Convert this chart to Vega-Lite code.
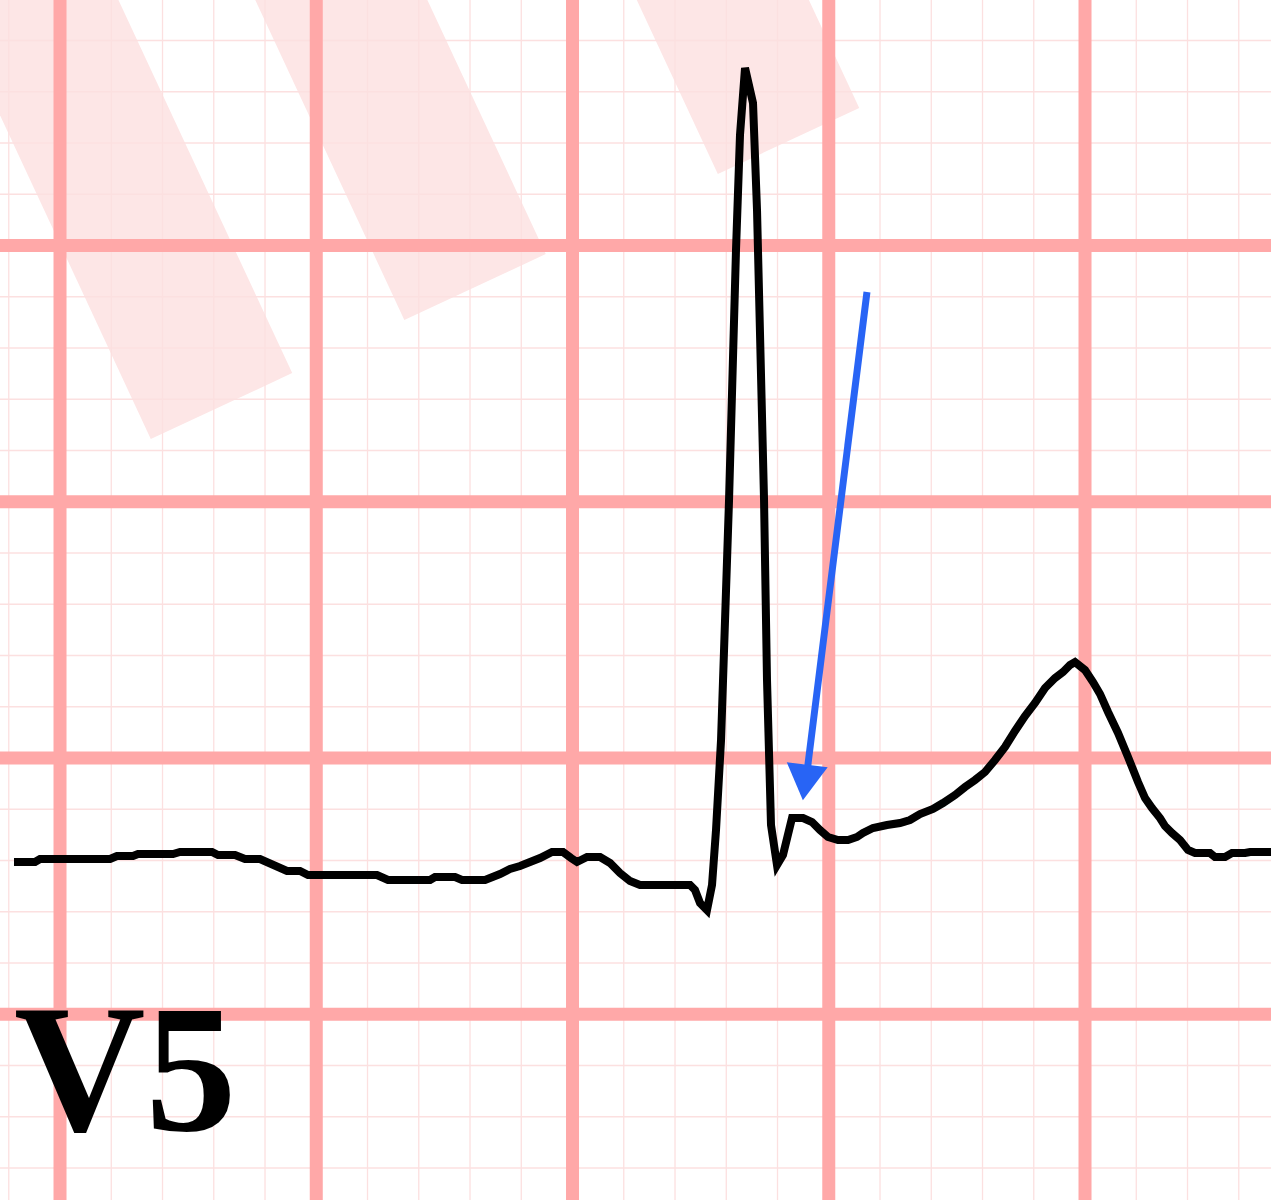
{
  "$schema": "https://vega.github.io/schema/vega-lite/v6.json",
  "width": 1271,
  "height": 1200,
  "autosize": {"type": "none"},
  "padding": 0,
  "background": "white",
  "config": {"view": {"stroke": null}},
  "datasets": {
    "bands": [
      {"x": -1.902, "y": 17.717, "x2": 3.151, "y2": 6.868},
      {"x": 4.125, "y": 17.717, "x2": 8.098, "y2": 9.190},
      {"x": 11.569, "y": 17.717, "x2": 14.215, "y2": 12.039}
    ],
    "minorX": [{"x":-1},{"x":0},{"x":1},{"x":2},{"x":3},{"x":4},{"x":5},{"x":6},{"x":7},{"x":8},{"x":9},{"x":10},{"x":11},{"x":12},{"x":13},{"x":14},{"x":15},{"x":16},{"x":17},{"x":18},{"x":19},{"x":20},{"x":21},{"x":22},{"x":23}],
    "minorY": [{"y":-8},{"y":-7},{"y":-6},{"y":-5},{"y":-4},{"y":-3},{"y":-2},{"y":-1},{"y":0},{"y":1},{"y":2},{"y":3},{"y":4},{"y":5},{"y":6},{"y":7},{"y":8},{"y":9},{"y":10},{"y":11},{"y":12},{"y":13},{"y":14}],
    "majorX": [{"x":0},{"x":5},{"x":10},{"x":15},{"x":20}],
    "majorY": [{"y":-5},{"y":0},{"y":5},{"y":10}],
    "label": [{"text": "V5", "x": -0.898, "y": -7.317}],
    "ecg": [
      {"i":1,"t":-0.898,"v":-2.029},{"i":2,"t":-0.488,"v":-2.029},{"i":3,"t":-0.390,"v":-1.971},{"i":4,"t":0.976,"v":-1.971},
      {"i":5,"t":1.112,"v":-1.912},{"i":6,"t":1.424,"v":-1.912},{"i":7,"t":1.522,"v":-1.873},{"i":8,"t":2.205,"v":-1.873},
      {"i":9,"t":2.341,"v":-1.834},{"i":10,"t":2.966,"v":-1.834},{"i":11,"t":3.083,"v":-1.893},{"i":12,"t":3.415,"v":-1.893},
      {"i":13,"t":3.610,"v":-1.971},{"i":14,"t":3.902,"v":-1.971},{"i":15,"t":4.429,"v":-2.205},{"i":16,"t":4.683,"v":-2.205},
      {"i":17,"t":4.839,"v":-2.283},{"i":18,"t":6.185,"v":-2.283},{"i":19,"t":6.400,"v":-2.380},{"i":20,"t":7.220,"v":-2.380},
      {"i":21,"t":7.317,"v":-2.322},{"i":22,"t":7.707,"v":-2.322},{"i":23,"t":7.844,"v":-2.380},{"i":24,"t":8.293,"v":-2.380},
      {"i":25,"t":8.585,"v":-2.263},{"i":26,"t":8.780,"v":-2.166},{"i":27,"t":8.976,"v":-2.107},{"i":28,"t":9.171,"v":-2.029},
      {"i":29,"t":9.366,"v":-1.951},{"i":30,"t":9.600,"v":-1.834},{"i":31,"t":9.815,"v":-1.834},{"i":32,"t":9.971,"v":-1.951},
      {"i":33,"t":10.088,"v":-2.029},{"i":34,"t":10.283,"v":-1.932},{"i":35,"t":10.537,"v":-1.932},{"i":36,"t":10.732,"v":-2.049},
      {"i":37,"t":10.927,"v":-2.244},{"i":38,"t":11.122,"v":-2.400},{"i":39,"t":11.317,"v":-2.478},{"i":40,"t":12.293,"v":-2.478},
      {"i":41,"t":12.390,"v":-2.576},{"i":42,"t":12.488,"v":-2.829},{"i":43,"t":12.624,"v":-2.966},{"i":44,"t":12.722,"v":-2.478},
      {"i":45,"t":12.800,"v":-1.405},{"i":46,"t":12.898,"v":0.351},{"i":47,"t":13.054,"v":5.034},{"i":48,"t":13.190,"v":9.912},
      {"i":49,"t":13.268,"v":12.156},{"i":50,"t":13.366,"v":13.463},{"i":51,"t":13.522,"v":12.780},{"i":52,"t":13.600,"v":10.693},
      {"i":53,"t":13.737,"v":5.034},{"i":54,"t":13.795,"v":1.522},{"i":55,"t":13.873,"v":-1.307},{"i":56,"t":13.990,"v":-2.088},
      {"i":57,"t":14.107,"v":-1.893},{"i":58,"t":14.283,"v":-1.171},{"i":59,"t":14.498,"v":-1.171},{"i":60,"t":14.673,"v":-1.249},
      {"i":61,"t":14.829,"v":-1.405},{"i":62,"t":14.985,"v":-1.541},{"i":63,"t":15.180,"v":-1.600},{"i":64,"t":15.376,"v":-1.600},
      {"i":65,"t":15.551,"v":-1.541},{"i":66,"t":15.668,"v":-1.463},{"i":67,"t":15.863,"v":-1.366},{"i":68,"t":16.137,"v":-1.307},
      {"i":69,"t":16.390,"v":-1.268},{"i":70,"t":16.585,"v":-1.210},{"i":71,"t":16.780,"v":-1.093},{"i":72,"t":17.034,"v":-0.995},
      {"i":73,"t":17.229,"v":-0.878},{"i":74,"t":17.463,"v":-0.722},{"i":75,"t":17.659,"v":-0.566},{"i":76,"t":17.854,"v":-0.429},
      {"i":77,"t":18.049,"v":-0.273},{"i":78,"t":18.244,"v":-0.039},{"i":79,"t":18.439,"v":0.215},{"i":80,"t":18.634,"v":0.527},
      {"i":81,"t":18.829,"v":0.820},{"i":82,"t":19.024,"v":1.073},{"i":83,"t":19.220,"v":1.366},{"i":84,"t":19.415,"v":1.561},
      {"i":85,"t":19.571,"v":1.678},{"i":86,"t":19.707,"v":1.815},{"i":87,"t":19.805,"v":1.873},{"i":88,"t":20.000,"v":1.717},
      {"i":89,"t":20.156,"v":1.483},{"i":90,"t":20.293,"v":1.249},{"i":91,"t":20.449,"v":0.898},{"i":92,"t":20.644,"v":0.488},
      {"i":93,"t":20.839,"v":0.020},{"i":94,"t":21.034,"v":-0.468},{"i":95,"t":21.171,"v":-0.780},{"i":96,"t":21.307,"v":-0.976},
      {"i":97,"t":21.463,"v":-1.171},{"i":98,"t":21.561,"v":-1.327},{"i":99,"t":21.698,"v":-1.463},{"i":100,"t":21.854,"v":-1.600},
      {"i":101,"t":22.010,"v":-1.795},{"i":102,"t":22.146,"v":-1.854},{"i":103,"t":22.439,"v":-1.854},{"i":104,"t":22.537,"v":-1.932},
      {"i":105,"t":22.732,"v":-1.932},{"i":106,"t":22.868,"v":-1.854},{"i":107,"t":23.122,"v":-1.854},{"i":108,"t":23.220,"v":-1.834},
      {"i":109,"t":23.629,"v":-1.834}
    ],
    "arrow": [{"x": 15.746, "y": 9.093, "x2": 14.556, "y2": -0.429}],
    "head": [{"x": 14.537, "y": -0.478}]
  },
  "layer": [
    {
      "data": {"name": "bands"},
      "mark": {"type": "rule", "color": "#fde6e6", "strokeWidth": 156, "strokeCap": "butt", "clip": true},
      "encoding": {
        "x": {"field": "x", "type": "quantitative", "axis": null, "scale": {"domain": [-1.171, 23.629], "nice": false, "zero": false}},
        "y": {"field": "y", "type": "quantitative", "axis": null, "scale": {"domain": [-8.624, 14.79], "nice": false, "zero": false}},
        "x2": {"field": "x2"},
        "y2": {"field": "y2"}
      }
    },
    {
      "data": {"name": "minorX"},
      "mark": {"type": "rule", "color": "#fce0e0", "strokeWidth": 1.3},
      "encoding": {"x": {"field": "x", "type": "quantitative", "axis": null}}
    },
    {
      "data": {"name": "minorY"},
      "mark": {"type": "rule", "color": "#fce0e0", "strokeWidth": 1.3},
      "encoding": {"y": {"field": "y", "type": "quantitative", "axis": null}}
    },
    {
      "data": {"name": "majorX"},
      "mark": {"type": "rule", "color": "#ffa8a8", "strokeWidth": 13},
      "encoding": {"x": {"field": "x", "type": "quantitative", "axis": null}}
    },
    {
      "data": {"name": "majorY"},
      "mark": {"type": "rule", "color": "#ffa8a8", "strokeWidth": 13},
      "encoding": {"y": {"field": "y", "type": "quantitative", "axis": null}}
    },
    {
      "data": {"name": "label"},
      "mark": {"type": "text", "font": "Liberation Serif", "fontWeight": "bold", "fontSize": 182, "align": "left", "baseline": "alphabetic", "color": "black", "dy": -3},
      "encoding": {
        "x": {"field": "x", "type": "quantitative", "axis": null},
        "y": {"field": "y", "type": "quantitative", "axis": null},
        "text": {"field": "text"}
      }
    },
    {
      "data": {"name": "ecg"},
      "mark": {"type": "line", "color": "black", "strokeWidth": 8, "strokeJoin": "miter", "strokeCap": "butt", "clip": true},
      "encoding": {
        "x": {"field": "t", "type": "quantitative", "axis": null},
        "y": {"field": "v", "type": "quantitative", "axis": null},
        "order": {"field": "i", "type": "quantitative"}
      }
    },
    {
      "data": {"name": "arrow"},
      "mark": {"type": "rule", "color": "#2864f5", "strokeWidth": 7, "strokeCap": "butt"},
      "encoding": {
        "x": {"field": "x", "type": "quantitative", "axis": null},
        "y": {"field": "y", "type": "quantitative", "axis": null},
        "x2": {"field": "x2"},
        "y2": {"field": "y2"}
      }
    },
    {
      "data": {"name": "head"},
      "mark": {"type": "point", "shape": "triangle-down", "filled": true, "color": "#2864f5", "opacity": 1, "size": 1700, "angle": 7, "strokeWidth": 0},
      "encoding": {
        "x": {"field": "x", "type": "quantitative", "axis": null},
        "y": {"field": "y", "type": "quantitative", "axis": null}
      }
    }
  ]
}
